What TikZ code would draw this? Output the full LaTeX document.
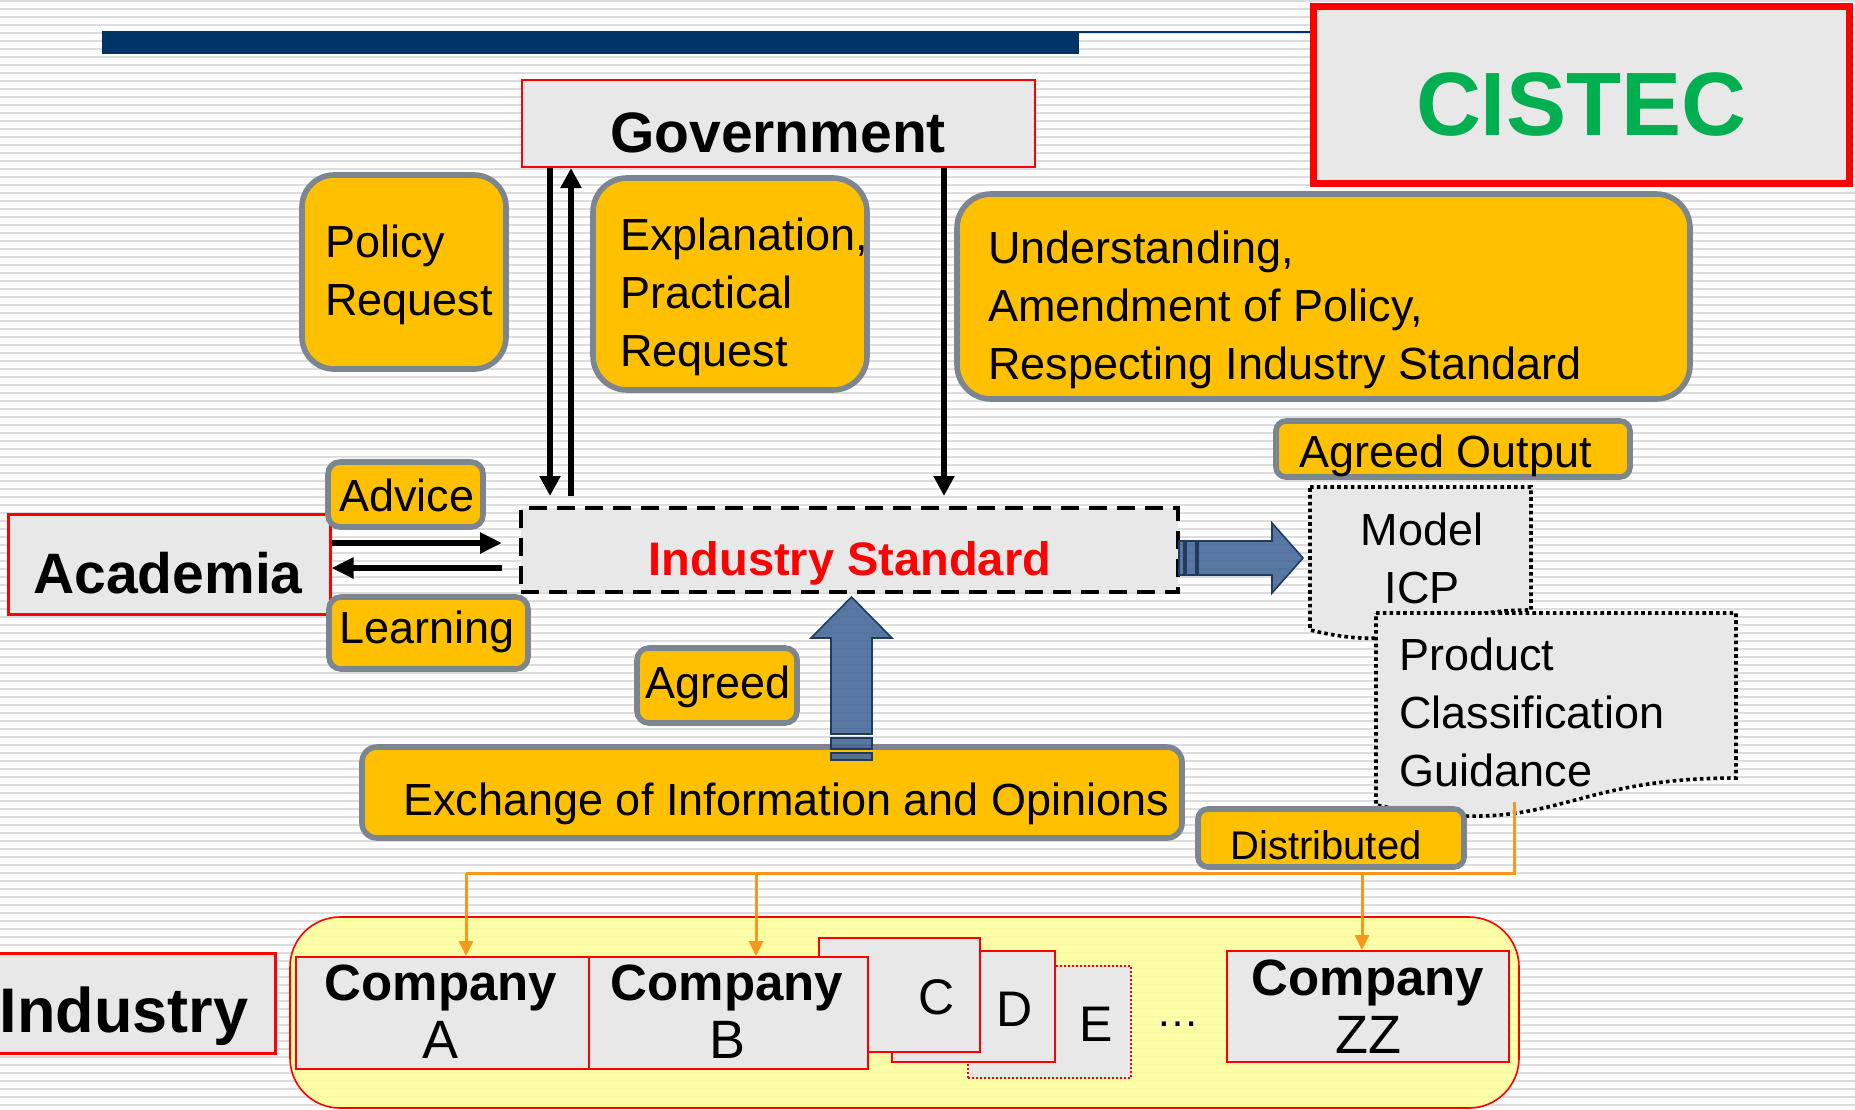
\documentclass[tikz,border=0pt]{standalone}
\usepackage{fontspec}
\setmainfont{Liberation Sans}
\usetikzlibrary{arrows.meta,fit}
\definecolor{boxgray}{HTML}{E8E8E8}
\definecolor{boxyellow}{HTML}{FFC000}
\definecolor{rimgray}{HTML}{7B8691}
\definecolor{navy}{HTML}{003366}
\definecolor{cistecgreen}{HTML}{00B050}
\definecolor{flowblue}{HTML}{46699A}
\definecolor{flowrim}{HTML}{1F3B60}
\definecolor{distorange}{HTML}{F7981D}
\definecolor{areayellow}{HTML}{FFFF99}
\definecolor{stripegray}{HTML}{DDDDDD}
\begin{document}
\begin{tikzpicture}[x=0.5pt,y=-0.5pt,
    stripe/.style={stripegray,line width=1pt},
    graybox/.style={draw=red,fill=boxgray,line width=1pt,inner sep=0pt},
    ybox/.style={draw=rimgray,fill=boxyellow,line width=2.8pt,inner sep=0pt},
    lbl/.style={inner sep=0pt,font=\fontsize{22.5}{29}\selectfont,align=left},
    big/.style={inner sep=0pt,font=\fontsize{#1}{#1}\selectfont\bfseries},
    ctext/.style={inner sep=0pt,align=center,font=\fontsize{27}{29}\selectfont},
    letter/.style={inner sep=0pt,font=\fontsize{25}{29}\selectfont,anchor=base},
    arr/.style={line width=2.6pt,-{Triangle[length=10pt,width=10pt]}},
    harr/.style={line width=3pt,-{Triangle[length=11pt,width=10pt]}},
    oline/.style={distorange,line width=1.5pt},
    oarr/.style={oline,-{Triangle[length=7.5pt,width=7pt]}},
    doc/.style={fill=boxgray,line width=1.8pt,dash pattern=on 1.8pt off 1.6pt},
    blk/.style={fill=flowblue,fill opacity=0.9,draw=flowrim,line width=0.8pt}]
  \useasboundingbox (0,0) rectangle (1855,1109);
  \clip (0,0) rectangle (1855,1109);
  \fill[white] (0,0) rectangle (1855,1109);
  \foreach \k in {0,...,138}
    \draw[stripe] (0,{8*\k+1}) -- (1855,{8*\k+1});

  \fill[navy] (102,31) rectangle (1079,54);
  \draw[navy,line width=1pt] (1079,32) -- (1310,32);
  \node[graybox,line width=3.5pt,fit={(1313,6) (1849,183)}] (cistec) {};
  \node[big=45,text=cistecgreen,anchor=base] (cistectxt) at (1581,135) {CISTEC};

  \node[graybox,fit={(522,80) (1035,167)}] (gov) {};
  \node[big=28.5,anchor=base] (govtxt) at (778,152) {Government};

  \node[ybox,rounded corners=16pt,fit={(302,175) (506,369)}] (pol) {};
  \node[lbl,anchor=north west] (poltxt) at (325,224) {Policy\\Request};
  \node[ybox,rounded corners=17pt,fit={(593,178) (867,390)}] (expl) {};
  \node[lbl,anchor=north west] (expltxt) at (620,217) {Explanation,\\Practical\\Request};
  \node[ybox,rounded corners=17pt,fit={(957,194) (1690,399)}] (und) {};
  \node[lbl,anchor=north west] (undtxt) at (988,230) {Understanding,\\Amendment of Policy,\\Respecting Industry Standard};

  \node[graybox,line width=1.5pt,fit={(8,514) (330,614)}] (acad) {};
  \node[big=28.5,anchor=base] (acadtxt) at (168,593) {Academia};
  \node[ybox,rounded corners=6pt,fit={(328,462) (483,527)}] (adv) {};
  \node[lbl,anchor=base west] (advtxt) at (339,511) {Advice};
  \node[ybox,rounded corners=6pt,fit={(329,597) (528,669)}] (lrn) {};
  \node[lbl,anchor=base west] (lrntxt) at (339,643) {Learning};

  \node[draw,fill=boxgray,line width=2pt,dash pattern=on 9pt off 5pt,inner sep=0pt,fit={(521,508) (1178,592)}] (std) {};
  \node[big=23.5,text=red,anchor=base] (stdtxt) at (850,575) {Industry Standard};

  \coordinate (dn) at (550,0);
  \coordinate (up) at (571,0);
  \coordinate (dn2) at (944,0);
  \draw[arr,shorten >=5pt] (dn |- gov.south) -- (dn |- std.north);
  \draw[arr,shorten <=5pt] (up |- std.north) -- (up |- gov.south);
  \draw[arr,shorten >=5pt] (dn2 |- gov.south) -- (dn2 |- std.north);
  \coordinate (toacad) at (0,543);
  \coordinate (fromacad) at (0,568);
  \draw[harr,shorten >=8.5pt] (toacad -| acad.east) -- (toacad -| std.west);
  \draw[harr,shorten <=8.5pt] (fromacad -| std.west) -- (fromacad -| acad.east);

  \node[ybox,rounded corners=6pt,fit={(637,648) (797,723)}] (agr) {};
  \node[lbl,anchor=base west] (agrtxt) at (645,698) {Agreed};
  \node[ybox,rounded corners=7.5pt,fit={(362,747) (1182,838)}] (exch) {};
  \node[lbl,anchor=base west] (exchtxt) at (403,815) {Exchange of Information and Opinions};

  \draw[blk] (831,734) -- (831,638) -- (811,638) -- (851.5,597) -- (892,638) -- (872,638) -- (872,734) -- cycle;
  \draw[blk] (831,738) rectangle (872,749);
  \draw[blk] (831,753) rectangle (872,760);
  \draw[blk] (1198,541) -- (1272,541) -- (1272,523) -- (1303,558) -- (1272,593) -- (1272,575) -- (1198,575) -- cycle;
  \draw[blk] (1179,541) rectangle (1184,575);
  \draw[blk] (1186,541) rectangle (1196,575);

  \node[ybox,rounded corners=5pt,fit={(1276,421) (1630,477)}] (out) {};
  \node[lbl,anchor=base west] (outtxt) at (1299,467) {Agreed Output};

  \draw[doc] (1310,487) -- (1531,487) -- (1531,610) .. controls (1420.5,610) and (1420.5,656.7) .. (1310,630) -- cycle;
  \node[lbl,align=center,anchor=north] (icp) at (1422,512) {Model\\ICP};
  \draw[doc] (1376,613) -- (1736,613) -- (1736,778) .. controls (1556,778) and (1556,841) .. (1376,805) -- cycle;
  \node[lbl,anchor=north west] (pcg) at (1399,637) {Product\\Classification\\Guidance};
  \node[ybox,rounded corners=5pt,fit={(1198,809) (1464,867)}] (dist) {};
  \node[inner sep=0pt,font=\fontsize{20}{22}\selectfont,anchor=base west] (disttxt) at (1230,859) {Distributed};

  \node[graybox,line width=1.5pt,fit={(-10,953) (275,1053)}] (ind) {};
  \node[big=31.5,anchor=base] (indtxt) at (124,1032) {Industry};
  \node[draw=red,line width=0.8pt,fill=areayellow,fill opacity=0.85,rounded corners=25pt,inner sep=0pt,fit={(290,917) (1519,1108)}] (area) {};

  \node[draw=red,fill=boxgray,line width=0.6pt,dash pattern=on 1pt off 1pt,inner sep=0pt,fit={(968,966) (1131,1078)}] (compe) {};
  \node[letter] (etxt) at (1096,1041) {E};
  \node[graybox,fit={(892,951) (1055,1062)}] (compd) {};
  \node[letter] (dtxt) at (1015,1026) {D};
  \node[graybox,fit={(819,938) (980,1052)}] (compc) {};
  \node[letter] (ctxt) at (937,1014) {C};
  \node[graybox,fit={(589,957) (868,1069)}] (compb) {};
  \node[ctext,anchor=north] (btxt) at (727,964) {{\fontsize{25.5}{29}\selectfont\bfseries Company}\\B};
  \node[graybox,fit={(296,957) (589,1069)}] (compa) {};
  \node[ctext,anchor=north] (atxt) at (441,964) {{\fontsize{25.5}{29}\selectfont\bfseries Company}\\A};
  \node[letter,font=\fontsize{21.5}{25}\selectfont] (dots) at (1178,1026) {…};
  \node[graybox,fit={(1227,951) (1509,1062)}] (compzz) {};
  \node[ctext,anchor=north] (zztxt) at (1368,959) {{\fontsize{25.5}{29}\selectfont\bfseries Company}\\ZZ};

  \coordinate (pcgfoot) at (1514,802);
  \coordinate (oa) at (466,873);
  \coordinate (ob) at (756,873);
  \coordinate (oz) at (1362,873);
  \draw[oline] (pcgfoot) |- (oa);
  \draw[oarr] (oa) -- (oa |- compa.north);
  \draw[oarr] (ob) -- (ob |- compb.north);
  \draw[oarr] (oz) -- (oz |- compzz.north);
\end{tikzpicture}
\end{document}
